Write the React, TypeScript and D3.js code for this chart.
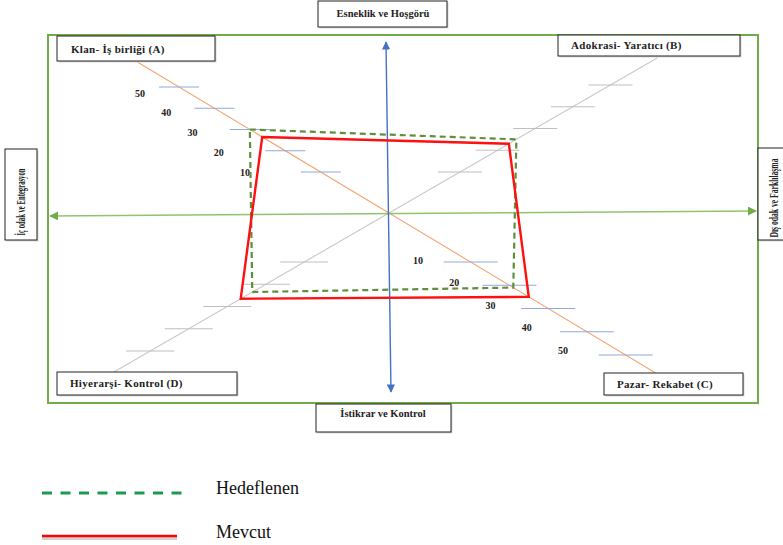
import * as d3 from "d3";

// quadrant names, clockwise from top-left
const quadrants = ["Klan- İş birliği (A)", "Adokrasi- Yaratıcı (B)", "Pazar- Rekabet (C)", "Hiyerarşi- Kontrol (D)"];
const tickValues = [10, 20, 30, 40, 50];
const hedeflenen = [30, 25, 21, 23.5];
const mevcut = [26.5, 23, 25, 26.5];
const sideLabels = ["Esneklik ve Hoşgörü", "İstikrar ve Kontrol", "İç odak ve Entegrasyon", "Dış odak ve Farklılaşma"];
const legendNames = ["Hedeflenen", "Mevcut"];

const W = 783;
const H = 545;
const cx = 389;
const cy = 213;
const serif = "'Liberation Serif', 'DejaVu Serif', serif";

// layout for each diagonal: direction, slope, distance scale, end, tick width, colours
const axes = [
  { sx: -1, sy: -1, slope: 0.6, range: [41, 126], end: 151, tw: 40, line: "#f4a672", tick: "#8faadc" },
  { sx: 1, sy: -1, slope: 0.578, range: [41, 128], end: 155, tw: 44, line: "#c8c8c8", tick: "#c0c0c0" },
  { sx: 1, sy: 1, slope: 0.6, range: [49, 142], end: 160, tw: 54, line: "#f4a672", tick: "#8faadc" },
  { sx: -1, sy: 1, slope: 0.578, range: [49, 138], end: 159, tw: 48, line: "#c8c8c8", tick: "#c0c0c0" },
].map((a) => ({ ...a, d: d3.scaleLinear().domain([10, 50]).range(a.range) }));

const pt = (i: number, v: number): [number, number] => {
  const a = axes[i];
  const d = a.d(v);
  return [cx + (a.sx * d) / a.slope, cy + a.sy * d];
};

// tick number labels along A and C
const labelA = { x: d3.scaleLinear().domain([10, 50]).range([245, 140]), y: d3.scaleLinear().domain([10, 50]).range([172, 93]) };
const labelC = { x: d3.scaleLinear().domain([10, 50]).range([418, 563]), y: d3.scaleLinear().domain([10, 50]).range([260, 350]) };

const poly = d3.line<[number, number]>().curve(d3.curveLinearClosed);

function Box({ x, y, w, h, children }: any) {
  return (
    <g>
      <rect x={x + 1.5} y={y + 1.5} width={w} height={h} fill="#d9d9d9" />
      <rect x={x} y={y} width={w} height={h} fill="#fff" stroke="#222" strokeWidth={1} />
      {children}
    </g>
  );
}

export default function App() {
  const cornerBoxes = [
    { x: 57, y: 36, w: 158, h: 25, tx: 71, ty: 49 },
    { x: 558, y: 35, w: 182, h: 21, tx: 571, ty: 45 },
    { x: 604, y: 373, w: 139, h: 22, tx: 617, ty: 384 },
    { x: 57, y: 372, w: 180, h: 23, tx: 70, ty: 383 },
  ];

  return (
    <svg width={W} height={H} style={{ position: "absolute", left: 0, top: 0, background: "#fff" }}>
      <defs>
        <marker id="ag" viewBox="0 0 10 10" refX="9" refY="5" markerWidth="6" markerHeight="6" orient="auto-start-reverse">
          <path d="M0,0 L10,5 L0,10 z" fill="#70ad47" />
        </marker>
        <marker id="ab" viewBox="0 0 10 10" refX="9" refY="5" markerWidth="6" markerHeight="6" orient="auto-start-reverse">
          <path d="M0,0 L10,5 L0,10 z" fill="#4472c4" />
        </marker>
      </defs>

      <rect x={48} y={35} width={710} height={368} fill="none" stroke="#70ad47" strokeWidth={2} />

      {/* diagonals */}
      {axes.map((a, i) => (
        <line key={"d" + i} x1={cx} y1={cy} x2={cx + (a.sx * a.end) / a.slope} y2={cy + a.sy * a.end} stroke={a.line} strokeWidth={1.1} />
      ))}

      {/* ticks */}
      {axes.map((a, i) =>
        tickValues.map((v) => {
          const [x, y] = pt(i, v);
          return <line key={`t${i}-${v}`} x1={x - a.tw / 2} x2={x + a.tw / 2} y1={y} y2={y} stroke={a.tick} strokeWidth={1.1} />;
        })
      )}

      {tickValues.map((v) => (
        <g key={"l" + v} fontFamily={serif} fontWeight="bold" fontSize={10} fill="#222" textAnchor="middle" dominantBaseline="central">
          <text x={labelA.x(v)} y={labelA.y(v)}>{v}</text>
          <text x={labelC.x(v)} y={labelC.y(v)}>{v}</text>
        </g>
      ))}

      {/* main axes */}
      <line x1={50} y1={216} x2={756} y2={211} stroke="#8fc46a" strokeWidth={1.5} markerStart="url(#ag)" markerEnd="url(#ag)" />
      <line x1={386} y1={42} x2={391} y2={392} stroke="#4472c4" strokeWidth={1.4} markerStart="url(#ab)" markerEnd="url(#ab)" />

      {/* polygons */}
      <path d={poly(hedeflenen.map((v, i) => pt(i, v))) || ""} fill="none" stroke="#5e8f3a" strokeWidth={2.2} strokeDasharray="6 4" />
      <path d={poly(mevcut.map((v, i) => pt(i, v))) || ""} fill="none" stroke="#ff1010" strokeWidth={2.4} strokeLinejoin="miter" />

      {/* corner boxes */}
      {cornerBoxes.map((b, i) => (
        <Box key={"b" + i} x={b.x} y={b.y} w={b.w} h={b.h}>
          <text x={b.tx} y={b.ty} fontFamily={serif} fontWeight="bold" fontSize={11} fill="#222" dominantBaseline="central" letterSpacing={0.3}>
            {quadrants[i]}
          </text>
        </Box>
      ))}

      {/* side boxes */}
      <Box x={318} y={1} w={129} h={26}>
        <text x={383} y={13} fontFamily={serif} fontWeight="bold" fontSize={10.5} fill="#222" textAnchor="middle" dominantBaseline="central">{sideLabels[0]}</text>
      </Box>
      <Box x={316} y={404} w={135} h={28}>
        <text x={383} y={413} fontFamily={serif} fontWeight="bold" fontSize={10.5} fill="#222" textAnchor="middle" dominantBaseline="central">{sideLabels[1]}</text>
      </Box>
      <Box x={5} y={149} w={32} h={91}>
        <text transform="translate(21,202) rotate(-90)" fontFamily={serif} fontWeight="bold" fontSize={12} fill="#222" textAnchor="middle" dominantBaseline="central" textLength={67} lengthAdjust="spacingAndGlyphs">{sideLabels[2]}</text>
      </Box>
      <Box x={758} y={148} w={30} h={92}>
        <text transform="translate(774,198) rotate(-90)" fontFamily={serif} fontWeight="bold" fontSize={12} fill="#222" textAnchor="middle" dominantBaseline="central" textLength={79} lengthAdjust="spacingAndGlyphs">{sideLabels[3]}</text>
      </Box>

      {/* legend */}
      <line x1={42} x2={182} y1={493} y2={493} stroke="#1e9a50" strokeWidth={3} strokeDasharray="10 8.5" />
      <line x1={42} x2={177} y1={538} y2={538} stroke="#d0d0d0" strokeWidth={4} />
      <line x1={42} x2={177} y1={536} y2={536} stroke="#ff0000" strokeWidth={2.6} />
      {legendNames.map((n, i) => (
        <text key={n} x={216} y={[488, 532][i]} fontFamily={serif} fontSize={18} fill="#111" dominantBaseline="central">{n}</text>
      ))}
    </svg>
  );
}
